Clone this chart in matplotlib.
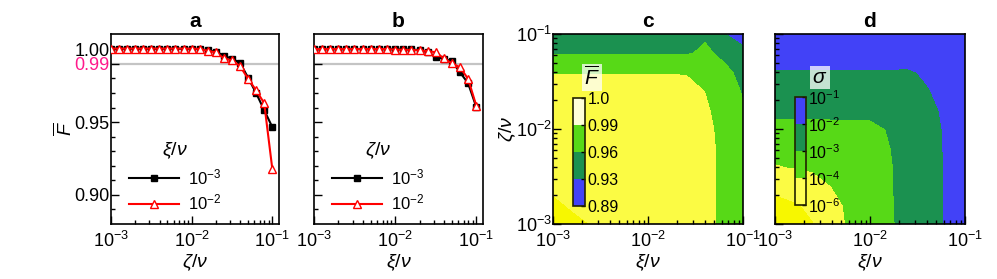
import numpy as np
import matplotlib
matplotlib.use("Agg")
from matplotlib import pyplot as plt
from matplotlib.colors import ListedColormap, BoundaryNorm
import matplotlib.cm as cm

plt.rcParams['font.family'] = ['Liberation Sans', 'DejaVu Sans']
plt.rcParams['mathtext.fontset'] = 'custom'
plt.rcParams['mathtext.rm'] = 'Liberation Sans'
plt.rcParams['mathtext.it'] = 'Liberation Sans:italic'
plt.rcParams['mathtext.bf'] = 'Liberation Sans:bold'
plt.rcParams['font.size'] = 13

# rate values along the x axis of panels a and b
rate = [0.001, 0.00126, 0.00158, 0.002, 0.00251, 0.00316, 0.00398, 0.00501, 0.00631, 0.00794,
        0.01, 0.0126, 0.0158, 0.02, 0.0251, 0.0316, 0.0398, 0.0501, 0.0631, 0.0794, 0.1]

# panel a: F vs zeta/nu for two xi/nu
fa_low = [1.0004, 1.0004, 1.0004, 1.0004, 1.0004, 1.0004, 1.0004, 1.0004, 1.0004, 1.0004,
          1.0003, 1.0002, 0.9992, 0.9985, 0.9956, 0.9935, 0.9908, 0.9805, 0.9699, 0.9582, 0.9466]
fa_high = [1.0005, 1.0005, 1.0005, 1.0005, 1.0005, 1.0005, 1.0005, 1.0005, 1.0005, 1.0005,
           1.0004, 1.0003, 0.9990, 0.9979, 0.9938, 0.9924, 0.9885, 0.9798, 0.9718, 0.9630, 0.9180]
# panel b: F vs xi/nu for two zeta/nu
fb_low = [1.0001, 1.0001, 1.0001, 1.0001, 1.0001, 1.0001, 1.0001, 1.0001, 1.0001, 1.0001,
          1.0000, 1.0000, 0.9999, 0.9995, 0.9981, 0.9950, 0.9934, 0.9918, 0.9842, 0.9767, 0.9605]
fb_high = [1.0002, 1.0002, 1.0002, 1.0002, 1.0002, 1.0002, 1.0002, 1.0002, 1.0002, 1.0002,
           0.9998, 0.9997, 0.9996, 0.9993, 0.9988, 0.9980, 0.9938, 0.9904, 0.9877, 0.9797, 0.9614]

# grid for panels c, d (xi/nu along columns, zeta/nu along rows)
xi_grid = [1.0e-3, 1.58e-3, 2.51e-3, 3.98e-3, 6.31e-3, 1.0e-2, 1.58e-2, 2.51e-2, 3.98e-2, 6.31e-2, 1.0e-1]
zeta_grid = [1.0e-3, 1.58e-3, 2.51e-3, 3.98e-3, 6.31e-3, 1.0e-2, 1.58e-2, 2.51e-2, 3.98e-2, 6.31e-2, 1.0e-1]

F_map = [
    [1.0000, 0.9997, 0.9992, 0.9985, 0.9982, 0.9981, 0.9980, 0.9978, 0.9975, 0.9825, 0.970],
    [0.9996, 0.9990, 0.9986, 0.9983, 0.9982, 0.9981, 0.9980, 0.9978, 0.9975, 0.9825, 0.969],
    [0.9988, 0.9985, 0.9983, 0.9982, 0.9981, 0.9980, 0.9980, 0.9978, 0.9975, 0.9825, 0.968],
    [0.9984, 0.9983, 0.9982, 0.9981, 0.9981, 0.9980, 0.9979, 0.9977, 0.9975, 0.9825, 0.967],
    [0.9983, 0.9982, 0.9982, 0.9981, 0.9980, 0.9980, 0.9979, 0.9976, 0.9975, 0.9820, 0.966],
    [0.9982, 0.9982, 0.9981, 0.9981, 0.9980, 0.9979, 0.9978, 0.9970, 0.9960, 0.9810, 0.964],
    [0.9982, 0.9981, 0.9981, 0.9980, 0.9980, 0.9979, 0.9977, 0.9965, 0.9930, 0.9790, 0.962],
    [0.9981, 0.9981, 0.9980, 0.9980, 0.9980, 0.9979, 0.9976, 0.9960, 0.9895, 0.9750, 0.957],
    [0.9886, 0.9886, 0.9886, 0.9886, 0.9886, 0.9886, 0.9886, 0.9885, 0.9780, 0.9680, 0.948],
    [0.9568, 0.9568, 0.9568, 0.9568, 0.9568, 0.9568, 0.9568, 0.9568, 0.9660, 0.9500, 0.940],
    [0.9550, 0.9550, 0.9550, 0.9550, 0.9550, 0.9550, 0.9550, 0.9550, 0.9540, 0.9310, 0.910],
]

# log10 of sigma
logsig_map = [
    [-7.00, -6.60, -6.05, -4.60, -3.70, -3.40, -3.10, -2.74, -2.40, -1.93, -1.50],
    [-6.40, -6.15, -5.70, -4.40, -3.65, -3.35, -3.08, -2.73, -2.40, -1.93, -1.50],
    [-5.60, -5.20, -4.50, -3.98, -3.60, -3.32, -3.08, -2.72, -2.38, -1.93, -1.50],
    [-4.05, -3.97, -3.79, -3.60, -3.45, -3.25, -3.07, -2.72, -2.35, -1.93, -1.50],
    [-3.70, -3.68, -3.62, -3.50, -3.40, -3.25, -3.03, -2.70, -2.33, -1.92, -1.50],
    [-3.30, -3.30, -3.28, -3.27, -3.25, -3.20, -2.95, -2.62, -2.30, -1.90, -1.48],
    [-2.70, -2.70, -2.70, -2.70, -2.72, -2.75, -2.60, -2.45, -2.20, -1.85, -1.45],
    [-2.40, -2.40, -2.40, -2.40, -2.40, -2.40, -2.38, -2.30, -2.05, -1.75, -1.40],
    [-2.05, -2.05, -2.05, -2.05, -2.05, -2.06, -2.07, -2.08, -1.88, -1.60, -1.30],
    [-1.50, -1.50, -1.50, -1.50, -1.50, -1.50, -1.50, -1.50, -1.40, -1.30, -1.10],
    [-1.20, -1.20, -1.20, -1.20, -1.20, -1.20, -1.20, -1.20, -1.20, -1.15, -1.00],
]

F_levels = [0.85, 0.93, 0.96, 0.99, 0.9993, 1.001]
sig_levels = [-8, -6, -4, -3, -2, 0]
F_cbar_labels = ['0.89', '0.93', '0.96', '0.99', '1.0']
sig_cbar_labels = [r'$10^{-6}$', r'$10^{-4}$', r'$10^{-3}$', r'$10^{-2}$', r'$10^{-1}$']

blue = '#4242f7'
dkgreen = '#1b9150'
ltgreen = '#57d917'
yellow = '#fbfb44'
byellow = '#f7f700'
pink = '#ff1a8c'

fig = plt.figure(figsize=(9.97, 2.79), dpi=100)


def style_ax(ax):
    ax.tick_params(which='both', direction='in', top=False, right=False, width=1, labelsize=13)
    ax.tick_params(which='major', length=6)
    ax.tick_params(which='minor', length=3)
    ax.tick_params(axis='x', which='major', pad=5)
    for s in ax.spines.values():
        s.set_linewidth(1.2)


def line_panel(rect, low, high, title, xlab, legtitle, labels_on):
    ax = fig.add_axes(rect)
    ax.axhline(0.99, color='#c4c4c4', lw=1.6, zorder=1)
    ax.plot(rate, low, color='black', marker='s', ms=4.5, lw=1.5, label=r'$10^{-3}$', zorder=2)
    ax.plot(rate, high, color='red', marker='^', ms=6, mfc='white', mec='red', mew=1.0,
            lw=1.5, label=r'$10^{-2}$', zorder=3)
    ax.set_xscale('log')
    ax.set_xlim(1e-3, 0.121)
    ax.set_ylim(0.88, 1.0105)
    ax.set_yticks([0.90, 0.95, 0.99, 1.00])
    ax.set_yticks(np.arange(0.89, 1.0, 0.01), minor=True)
    style_ax(ax)
    if labels_on:
        ax.set_yticklabels(['0.90', '0.95', '0.99', '1.00'])
        ax.get_yticklabels()[2].set_color(pink)
        ax.set_ylabel(r'$\overline{F}$', fontsize=14, labelpad=-1)
    else:
        ax.set_yticklabels([])
    ax.tick_params(axis='y', which='major', pad=1)
    ax.set_title(title, fontweight='bold', fontsize=15, pad=5)
    ax.set_xlabel(xlab, fontsize=14, labelpad=1)
    leg = ax.legend(title=legtitle, loc='lower left', bbox_to_anchor=(0.02, -0.02), frameon=False,
                    handlelength=3.0, fontsize=12, title_fontsize=14, labelspacing=0.35,
                    handletextpad=0.5)
    leg._legend_box.align = 'center'
    return ax


line_panel([0.1113, 0.197, 0.1685, 0.681], fa_low, fa_high, 'a', r'$\zeta/\nu$', r'$\xi/\nu$', True)
line_panel([0.3149, 0.197, 0.1695, 0.681], fb_low, fb_high, 'b', r'$\xi/\nu$', r'$\zeta/\nu$', False)


def map_panel(rect, z, levels, colors, title, ylab):
    ax = fig.add_axes(rect)
    ax.contourf(xi_grid, zeta_grid, np.array(z), levels=levels, colors=colors)
    ax.set_xscale('log')
    ax.set_yscale('log')
    ax.set_xlim(1e-3, 1e-1)
    ax.set_ylim(1e-3, 1e-1)
    style_ax(ax)
    ax.set_title(title, fontweight='bold', fontsize=15, pad=5)
    ax.set_xlabel(r'$\xi/\nu$', fontsize=14, labelpad=1)
    if ylab:
        ax.set_ylabel(r'$\zeta/\nu$', fontsize=14, labelpad=-2)
        ax.tick_params(axis='y', which='major', pad=1)
    else:
        ax.set_yticklabels([])
    return ax


map_panel([0.5547, 0.197, 0.1906, 0.681], F_map, F_levels,
          [blue, dkgreen, ltgreen, yellow, byellow], 'c', True)
map_panel([0.7773, 0.197, 0.1906, 0.681], logsig_map, sig_levels,
          [byellow, yellow, ltgreen, dkgreen, blue], 'd', False)


def inset_cbar(rect, colors, labels, head, headx):
    cax = fig.add_axes(rect)
    sm = cm.ScalarMappable(cmap=ListedColormap(colors), norm=BoundaryNorm([0, 1, 2, 3, 4], 4))
    cb = fig.colorbar(sm, cax=cax, ticks=[0, 1, 2, 3, 4])
    cb.set_ticklabels(labels)
    cb.outline.set_linewidth(1.2)
    cb.outline.set_edgecolor('#222200')
    cax.tick_params(length=3, width=1, direction='in', labelsize=11.5, pad=2)
    fig.text(headx, 0.722, head, fontsize=15, ha='center', va='center',
             bbox=dict(facecolor='white', edgecolor='none', alpha=0.75, pad=1.5))


inset_cbar([0.5747, 0.2616, 0.012, 0.387], [blue, dkgreen, ltgreen, '#ffffd8'],
           F_cbar_labels, r'$\overline{F}$', 0.594)
inset_cbar([0.7974, 0.2645, 0.0107, 0.388], ['#ffff55', ltgreen, dkgreen, blue],
           sig_cbar_labels, r'$\sigma$', 0.8225)

plt.savefig('out.png', dpi=100)
